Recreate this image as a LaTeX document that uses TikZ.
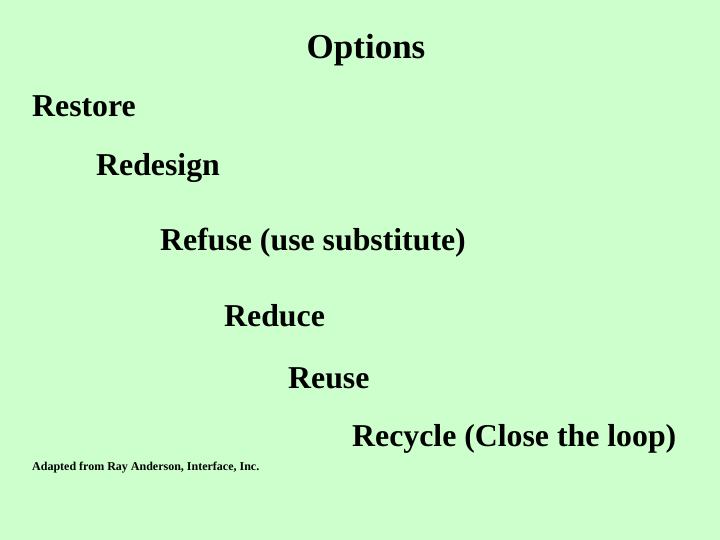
\documentclass[tikz,border=0pt]{standalone}
\usepackage{fontspec}
\setmainfont{Liberation Serif}
\definecolor{bg}{HTML}{CCFFCC}
\begin{document}
\begin{tikzpicture}[x=1pt,y=-1pt,
  item/.style={anchor=base west,inner sep=0pt,font=\fontsize{31.8}{33}\selectfont\bfseries}]
\fill[bg] (0,0) rectangle (720,540);
\useasboundingbox (0,0) rectangle (720,540);
\node[anchor=base,inner sep=0pt,font=\fontsize{35}{37}\selectfont\bfseries] (t) at (366,59) {Options};
\node[item] (a) at (32,117) {Restore};
\node[item] (b) at (96,176) {Redesign};
\node[item] (c) at (160,250) {Refuse (use substitute)};
\node[item] (d) at (224,326) {Reduce};
\node[item] (e) at (288,388) {Reuse};
\node[item] (f) at (352,446) {Recycle (Close the loop)};
\node[anchor=base west,inner sep=0pt,font=\fontsize{12}{13}\selectfont\bfseries] (n) at (32,470) {Adapted from Ray Anderson, Interface, Inc.};
\end{tikzpicture}
\end{document}
